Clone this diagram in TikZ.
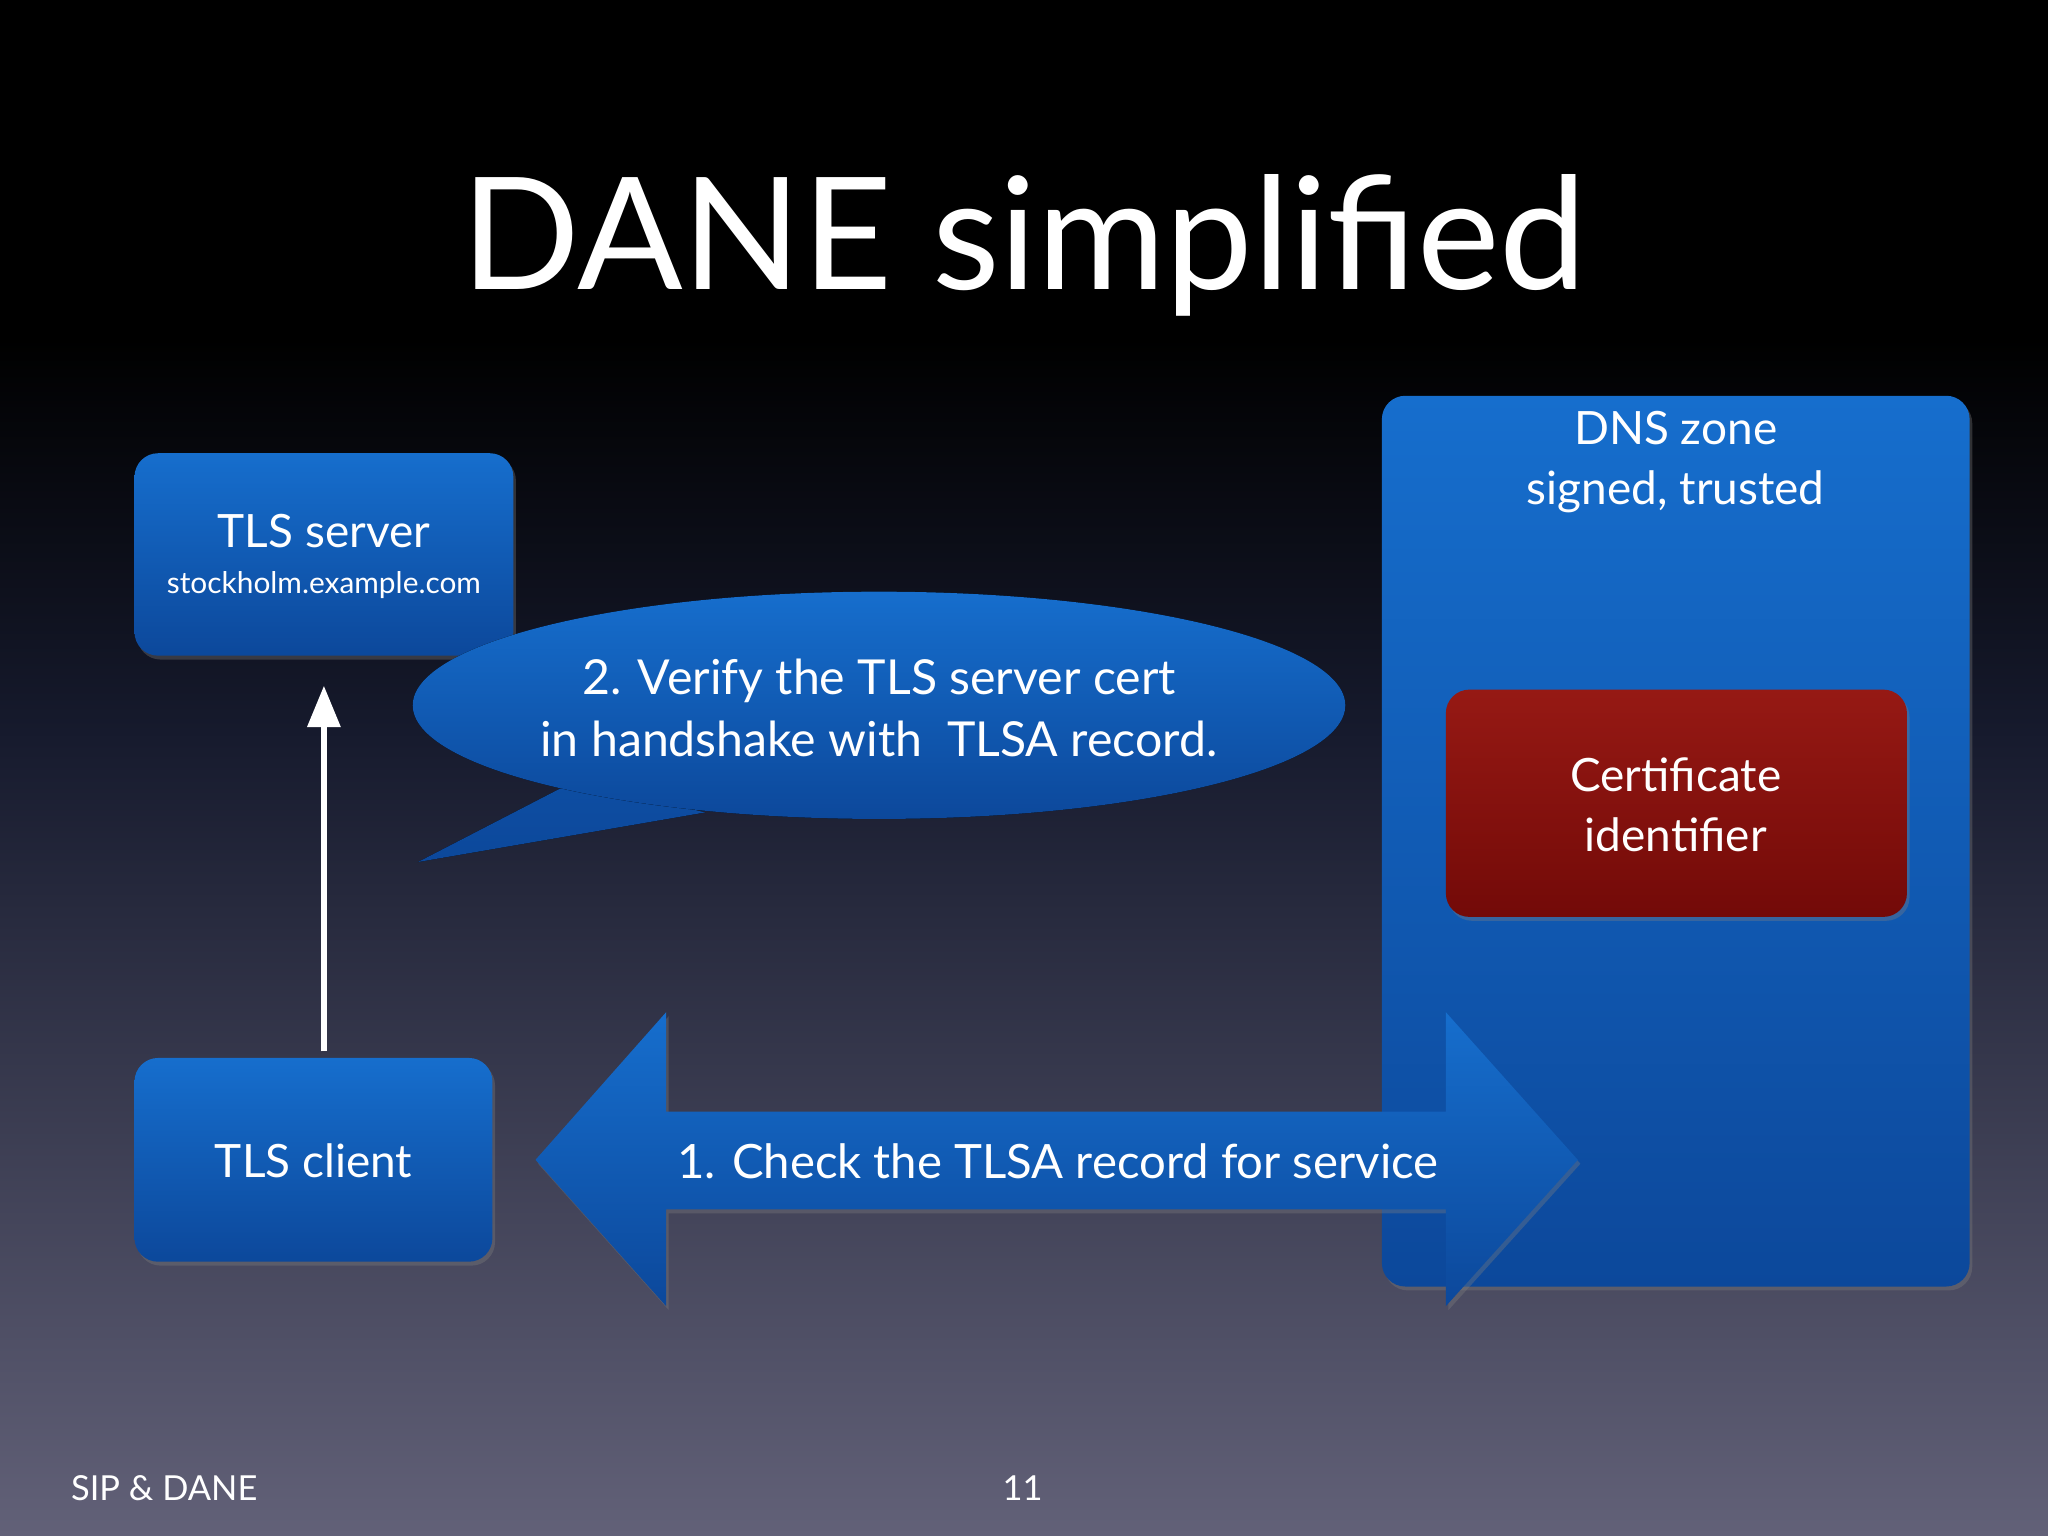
\documentclass[tikz,border=0pt]{standalone}
\usepackage{fontspec}
\setmainfont{Lato}
\usetikzlibrary{shapes.geometric,shadows,arrows.meta}
\definecolor{bgm}{RGB}{22,26,45}
\definecolor{bgb}{RGB}{98,97,120}
\definecolor{bt}{RGB}{22,110,205}
\definecolor{bb}{RGB}{12,72,155}
\definecolor{rt}{RGB}{150,25,20}
\definecolor{rb}{RGB}{115,10,8}
\begin{document}
\begin{tikzpicture}[x=0.01cm,y=-0.01cm,
  bluebox/.style={draw=none,rounded corners=0.18cm,top color=bt,bottom color=bb,
    drop shadow={shadow xshift=0.02cm,shadow yshift=-0.03cm,opacity=0.35}},
  txt/.style={text=white,font=\fontsize{10}{13}\selectfont,align=center}]
\fill[black] (0,0) rectangle (1568,260);
\shade[top color=black,bottom color=bgm] (0,259) rectangle (1568,560);
\shade[top color=bgm,bottom color=bgb] (0,559) rectangle (1568,1176);
\useasboundingbox (0,0) rectangle (1568,1176);
\node[txt,font=\fontsize{34}{40}\selectfont] (title) at (784,188) {DANE simplified};
% DNS zone
\path[bluebox] (1058,303) rectangle (1508,985);
\node[txt] (dns) at (1283,354) {DNS zone\\signed, trusted};
\path[bluebox,top color=rt,bottom color=rb] (1107,528) rectangle (1460,702);
\node[txt] (cert) at (1283,616) {Certificate\\identifier};
% server / client
\path[bluebox] (103,347) rectangle (393,502);
\node[txt] (srv) at (248,426) {TLS server\\[-3pt]{\fontsize{6.5}{8}\selectfont stockholm.example.com}};
\coordinate (srvb) at (248,502);
\path[bluebox] (103,810) rectangle (377,966);
\node[txt] (cli) at (240,889) {TLS client};
\coordinate (clit) at (248,810);
\draw[white,line width=1.3pt,-{Triangle[length=9pt,width=7pt]},shorten <=0.05cm,shorten >=0.23cm] (clit) -- (srvb);
% callout
\fill[top color=bb!85!bt,bottom color=bb] (440,598) -- (320,660) -- (540,622) -- cycle;
\fill[top color=bt,bottom color=bb] (673,540) ellipse[x radius=357,y radius=87];
\node[txt,font=\fontsize{10.5}{13.5}\selectfont] (call) at (673,542) {2. Verify the TLS server cert\\in handshake with \ TLSA record.};
% double arrow
\path[top color=bt,bottom color=bb,
  drop shadow={shadow xshift=0.02cm,shadow yshift=-0.03cm,opacity=0.35}]
  (410,888) -- (510,775) -- (510,851) -- (1107,851) -- (1107,775) -- (1208,888) -- (1107,1000) -- (1107,926) -- (510,926) -- (510,1000) -- cycle;
\node[txt,font=\fontsize{10.3}{13}\selectfont] (chk) at (810,889) {1. Check the TLSA record for service};
% footer
\node[txt,anchor=west,font=\fontsize{7.5}{9}\selectfont] (ft) at (42,1139) {SIP \& DANE};
\node[txt,font=\fontsize{7.5}{9}\selectfont] (pg) at (783,1139) {11};
\end{tikzpicture}
\end{document}
